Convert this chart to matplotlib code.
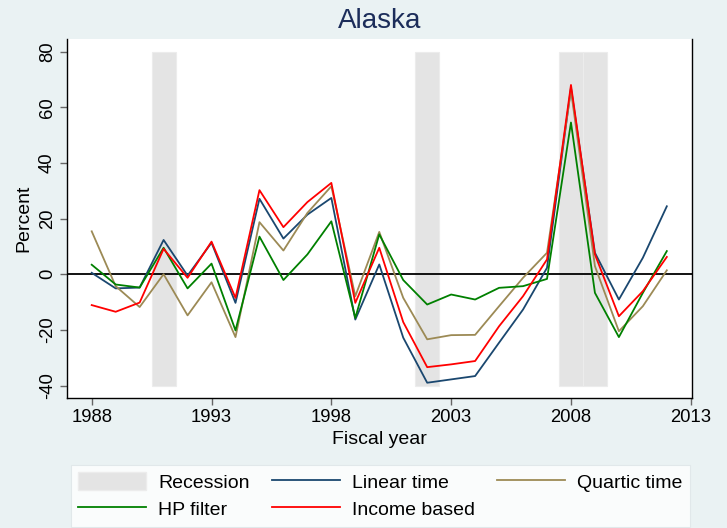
import matplotlib
matplotlib.use("Agg")
import matplotlib.pyplot as plt
from matplotlib.patches import Patch
from matplotlib.lines import Line2D

plt.rcParams['font.family'] = ['Liberation Sans', 'DejaVu Sans']
plt.rcParams['axes.unicode_minus'] = False

# data
years = list(range(1988, 2013))
linear = [0.5, -5.1, -4.8, 12.3, -0.5, 11.3, -10.3, 27.1, 12.8, 21.4, 27.4, -16.3, 3.5,
          -22.8, -39.0, -37.8, -36.6, -24.6, -12.7, 2.3, 67.0, 7.7, -9.1, 5.9, 24.4]
quartic = [15.4, -4.3, -11.8, 0.0, -14.8, -2.9, -22.6, 18.7, 8.5, 22.0, 31.6, -7.9, 15.2,
           -8.5, -23.4, -21.9, -21.8, -11.5, -1.3, 7.7, 66.0, 2.9, -20.5, -11.5, 1.4]
hp = [3.4, -3.7, -4.8, 9.5, -5.1, 3.8, -20.2, 13.5, -2.1, 7.1, 19.0, -15.7, 14.3,
      -2.1, -10.9, -7.3, -9.1, -4.9, -4.3, -1.7, 54.5, -6.7, -22.6, -6.7, 8.3]
income = [-11.1, -13.5, -10.2, 9.1, -1.3, 11.7, -8.5, 30.2, 16.9, 25.9, 32.8, -10.3, 9.5,
          -17.2, -33.4, -32.4, -31.2, -18.7, -7.9, 5.3, 68.0, 7.1, -15.1, -6.1, 6.2]
recession_years = [1991, 2002, 2008, 2009]
rec_low, rec_high = -40, 80

bg = '#eaf2f3'
c_linear = '#1a476f'
c_quartic = '#9c8a55'
c_hp = '#008000'
c_income = '#ff0000'
c_rec = '#e4e4e4'

fig = plt.figure(figsize=(7.27, 5.28), dpi=100, facecolor=bg)
ax = fig.add_axes([0.0922, 0.2456, 0.8593, 0.6805])
ax.set_facecolor('white')

ax.bar(recession_years, [rec_high - rec_low] * len(recession_years), bottom=rec_low,
       width=1.0, color=c_rec, edgecolor='#ececec', linewidth=0.8, zorder=1)
ax.axhline(0, color='black', linewidth=1.3, zorder=2)

ax.plot(years, linear, color=c_linear, lw=1.3, zorder=3)
ax.plot(years, quartic, color=c_quartic, lw=1.3, zorder=3)
ax.plot(years, hp, color=c_hp, lw=1.3, zorder=3)
ax.plot(years, income, color=c_income, lw=1.3, zorder=3)

ax.set_xlim(1986.97, 2013.04)
ax.set_ylim(-44.6, 84.5)
ax.set_xticks(range(1988, 2014, 5))
ax.set_yticks(range(-40, 81, 20))
ax.tick_params(axis='both', labelsize=13.3, color='#666666', length=5, width=1, pad=3)
plt.setp(ax.get_yticklabels(), rotation=90, va='center')

for s in ['left', 'bottom', 'right']:
    ax.spines[s].set_color('black')
    ax.spines[s].set_linewidth(1.0)
ax.spines['top'].set_visible(False)

ax.set_xlabel('Fiscal year', fontsize=14, labelpad=3)
ax.set_ylabel('Percent', fontsize=14, labelpad=5)
fig.text(0.522, 0.961, 'Alaska', fontsize=20, color='#1c2d5a', ha='center', va='center')

handles = [
    Patch(facecolor=c_rec, edgecolor='#ececec', label='Recession'),
    Line2D([], [], color=c_hp, lw=1.3, label='HP filter'),
    Line2D([], [], color=c_linear, lw=1.3, label='Linear time'),
    Line2D([], [], color=c_income, lw=1.3, label='Income based'),
    Line2D([], [], color=c_quartic, lw=1.3, label='Quartic time'),
]
leg = fig.legend(handles=handles, loc='center', bbox_to_anchor=(0.523, 0.0615), ncol=3,
                 fontsize=14, frameon=True, fancybox=False, handlelength=3.5,
                 handleheight=1.0, handletextpad=0.6, columnspacing=1.15,
                 labelspacing=0.4, borderpad=0.4)
leg.get_frame().set_facecolor('white')
leg.get_frame().set_edgecolor('#dde5e7')
leg.get_frame().set_linewidth(0.8)

fig.savefig('out.png', dpi=100, facecolor=bg)
